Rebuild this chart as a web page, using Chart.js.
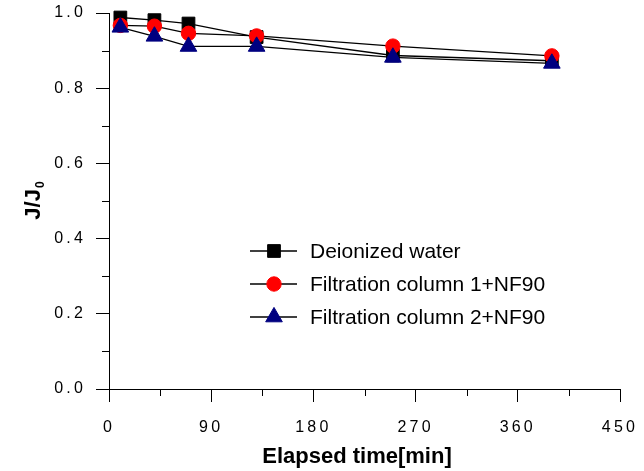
<!DOCTYPE html>
<html lang="en">
<head>
    <meta charset="UTF-8">
    <title>J/J0 vs elapsed time</title>
    <script src="https://cdn.jsdelivr.net/npm/chart.js"></script>
    <style>
        body { margin: 0; background: #fff; }
        #wrap { width: 644px; height: 471px; position: relative; }
    </style>
</head>
<body>
    <div id="wrap"><canvas id="fluxChart"></canvas></div>
    <script>
        // values
        const timeMin = [10, 40, 70, 130, 250, 390];
        const deionized = [0.988, 0.981, 0.972, 0.936, 0.887, 0.873];
        const column1 = [0.967, 0.965, 0.946, 0.939, 0.912, 0.886];
        const column2 = [0.962, 0.938, 0.911, 0.911, 0.882, 0.866];

        const seriesNames = ['Deionized water', 'Filtration column 1+NF90', 'Filtration column 2+NF90'];
        const xMinorTicks = [45, 135, 225, 315, 405];
        const yMinorTicks = [0.1, 0.3, 0.5, 0.7, 0.9];

        const FONT = "'Liberation Sans', Arial, sans-serif";

        function toPoints(ys) {
            return timeMin.map((t, i) => ({ x: t, y: ys[i] }));
        }

        function makeSet(label, ys, style, color, radius, order) {
            return {
                label: label,
                data: toPoints(ys),
                borderColor: '#000',
                borderWidth: 1.3,
                pointStyle: style,
                pointRadius: radius,
                pointBackgroundColor: color,
                pointBorderColor: color,
                pointBorderWidth: 1,
                tension: 0,
                clip: false,
                order: order
            };
        }

        const datasets = [
            makeSet(seriesNames[0], deionized, 'rect', '#000000', 9, 3),
            makeSet(seriesNames[1], column1, 'circle', '#ff0000', 7.2, 2),
            makeSet(seriesNames[2], column2, 'triangle', '#000080', 9.6, 1)
        ];

        function drawMarker(ctx, style, color, r, x, y) {
            ctx.save();
            ctx.fillStyle = color;
            ctx.strokeStyle = color;
            ctx.lineWidth = 1;
            ctx.beginPath();
            if (style === 'rect') {
                const s = r * Math.SQRT1_2;
                ctx.rect(x - s, y - s, 2 * s, 2 * s);
            } else if (style === 'circle') {
                ctx.arc(x, y, r, 0, Math.PI * 2);
            } else {
                ctx.moveTo(x, y - r);
                ctx.lineTo(x + r * Math.sin(Math.PI * 2 / 3), y + r / 2);
                ctx.lineTo(x - r * Math.sin(Math.PI * 2 / 3), y + r / 2);
                ctx.closePath();
            }
            ctx.fill();
            ctx.stroke();
            ctx.restore();
        }

        // spaced tick digits like the original plot, normal text elsewhere
        const spacing = {
            id: 'spacing',
            beforeDraw(chart) { chart.ctx.letterSpacing = '3.2px'; },
            beforeDatasetsDraw(chart) { chart.ctx.letterSpacing = '0px'; }
        };

        const extras = {
            id: 'extras',
            afterDraw(chart) {
                const ctx = chart.ctx;
                const xs = chart.scales.x, ys = chart.scales.y;
                const area = chart.chartArea;
                ctx.save();
                ctx.letterSpacing = '0px';
                ctx.strokeStyle = '#000';
                ctx.lineWidth = 1;
                // minor ticks
                ctx.beginPath();
                xMinorTicks.forEach(v => {
                    const px = Math.round(xs.getPixelForValue(v)) + 0.5;
                    ctx.moveTo(px, area.bottom);
                    ctx.lineTo(px, area.bottom + 7);
                });
                yMinorTicks.forEach(v => {
                    const py = Math.round(ys.getPixelForValue(v)) + 0.5;
                    ctx.moveTo(area.left, py);
                    ctx.lineTo(area.left - 7, py);
                });
                ctx.stroke();

                // axis titles
                ctx.fillStyle = '#000';
                ctx.font = 'bold 22px ' + FONT;
                ctx.textAlign = 'center';
                ctx.textBaseline = 'middle';
                ctx.fillText('Elapsed time[min]', 357, 457);

                ctx.save();
                ctx.translate(32, 201);
                ctx.rotate(-Math.PI / 2);
                ctx.textAlign = 'left';
                ctx.textBaseline = 'alphabetic';
                const main = 'J/J';
                ctx.font = 'bold 22px ' + FONT;
                const w = ctx.measureText(main).width;
                ctx.font = 'bold 12px ' + FONT;
                const w0 = ctx.measureText('0').width;
                const x0 = -(w + w0) / 2;
                ctx.font = 'bold 22px ' + FONT;
                ctx.fillText(main, x0, 8);
                ctx.font = 'bold 12px ' + FONT;
                ctx.fillText('0', x0 + w + 1, 12);
                ctx.restore();

                // legend
                ctx.font = '21px ' + FONT;
                ctx.textAlign = 'left';
                ctx.textBaseline = 'middle';
                const rowsY = [251, 284, 317];
                datasets.forEach((ds, i) => {
                    const y = rowsY[i];
                    ctx.beginPath();
                    ctx.strokeStyle = '#000';
                    ctx.lineWidth = 1.3;
                    ctx.moveTo(250, y);
                    ctx.lineTo(297, y);
                    ctx.stroke();
                    drawMarker(ctx, ds.pointStyle, ds.pointBackgroundColor, ds.pointRadius, 274, y);
                    ctx.fillStyle = '#000';
                    ctx.fillText(ds.label, 310, y + 1);
                });
                ctx.restore();
            }
        };

        new Chart(document.getElementById('fluxChart'), {
            type: 'line',
            data: { datasets: datasets },
            options: {
                responsive: true,
                maintainAspectRatio: false,
                animation: false,
                layout: { padding: { left: 0, right: 24, top: 13, bottom: 0 } },
                plugins: {
                    legend: { display: false },
                    tooltip: { enabled: false }
                },
                scales: {
                    x: {
                        type: 'linear',
                        min: 0,
                        max: 450,
                        afterFit(scale) {
                            scale.height = 82;
                            scale.paddingLeft = 0;
                            scale.paddingRight = 0;
                        },
                        ticks: {
                            stepSize: 90,
                            color: '#000',
                            font: { family: FONT, size: 16 },
                            padding: 16,
                            maxRotation: 0
                        },
                        grid: {
                            drawOnChartArea: false,
                            drawTicks: true,
                            tickLength: 13,
                            tickColor: '#000',
                            tickWidth: 1
                        },
                        border: { display: true, color: '#000', width: 1 }
                    },
                    y: {
                        min: 0,
                        max: 1,
                        afterFit(scale) {
                            scale.width = 109;
                            scale.paddingTop = 0;
                            scale.paddingBottom = 0;
                        },
                        ticks: {
                            stepSize: 0.2,
                            color: '#000',
                            font: { family: FONT, size: 16 },
                            padding: 10,
                            callback: v => v.toFixed(1)
                        },
                        grid: {
                            drawOnChartArea: false,
                            drawTicks: true,
                            tickLength: 13,
                            tickColor: '#000',
                            tickWidth: 1
                        },
                        border: { display: true, color: '#000', width: 1 }
                    }
                }
            },
            plugins: [spacing, extras]
        });
    </script>
</body>
</html>
